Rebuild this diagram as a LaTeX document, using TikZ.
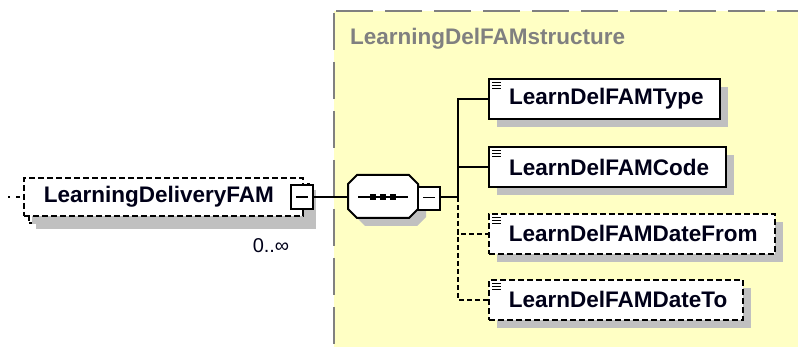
\documentclass[tikz,border=0pt]{standalone}
\usepackage{fontspec}
\setmainfont{Liberation Sans}
\usetikzlibrary{calc,shadows}
\definecolor{bgyellow}{HTML}{FFFFC4}
\definecolor{shgray}{HTML}{C0C0C0}
\definecolor{framegray}{HTML}{808080}
\definecolor{txtnavy}{HTML}{000018}
\newcommand\elemicon[1]{%
  \foreach \yy in {4.5,7.5,10.5}{\draw[line width=0.9pt] ($(#1.north west)+(4,\yy)$) -- ++(9,0);}}
\begin{document}
\begin{tikzpicture}[x=1pt,y=-1pt,
  boldtext/.style={font=\fontsize{22.5}{26}\selectfont\bfseries},
  elembox/.style={draw=black, line width=2pt, fill=white, minimum height=40pt,
    inner xsep=14pt, inner ysep=0pt, align=left, anchor=north west, boldtext,
    text=txtnavy, execute at begin node={\hspace*{6pt}},
    general shadow={fill=shgray, shadow xshift=8pt, shadow yshift=-8pt}},
  optbox/.style={elembox, line width=1.8pt, dash pattern=on 6pt off 3pt},
  btn/.style={draw=black, line width=2pt, fill=white, minimum width=22pt, minimum height=24pt, inner sep=0pt},
  conn/.style={line width=1.8pt, black},
  optconn/.style={conn, dash pattern=on 5pt off 3pt},
]
\useasboundingbox (0,0) rectangle (798,347);
% yellow group area
\fill[bgyellow] (334,11) rectangle (798,347);
\draw[framegray, line width=1.8pt, dash pattern=on 37pt off 12pt] (334,13) -- (334,347);
\draw[framegray, line width=1.8pt, dash pattern=on 37pt off 12pt] (336,11) -- (798,11);
\node[anchor=base west, inner sep=0pt, boldtext, text=framegray] (title) at (350,45) {LearningDelFAMstructure};

% main element (multiple occurrence)
\node[draw=black, line width=1.8pt, dash pattern=on 6pt off 3pt, fill=white, anchor=north west,
  minimum width=280pt, minimum height=39pt, inner sep=0pt,
  general shadow={fill=shgray, shadow xshift=7pt, shadow yshift=-6pt}] (mainback) at (28,183) {};
\node[optbox, minimum height=38pt, text width=251pt, general shadow={fill=none, draw=none}] (main) at (23,177) {LearningDeliveryFAM};
\node[btn] (mainbtn) at (302,197) {};
\draw[line width=1.6pt] ($(mainbtn.center)+(-6,0)$) -- ($(mainbtn.center)+(6,0)$);
\node[anchor=base, inner sep=0pt, text=txtnavy, font=\fontsize{20}{24}\selectfont] (occ) at (271,253) {0..∞};

% sequence compositor
\fill[shgray] (365,183) -- (417,183) -- (426,192) -- (426,217) -- (417,226) -- (365,226) -- (356,217) -- (356,192) -- cycle;
\node[minimum width=70pt, minimum height=43pt, inner sep=0pt, anchor=north west] (seq) at (348,175) {};
\draw[line width=2pt, fill=white] (357,175) -- (409,175) -- (418,184) -- (418,209) -- (409,218) -- (357,218) -- (348,209) -- (348,184) -- cycle;
\draw[line width=1.6pt] (358,197) -- (408,197);
\foreach \xx in {373,383,393}{\fill (\xx-3,194) rectangle (\xx+3,200);}
\node[btn, minimum height=23pt] (seqbtn) at (429,198.5) {};
\draw[line width=1.6pt] ($(seqbtn.center)+(-6,-1)$) -- ($(seqbtn.center)+(6,-1)$);

% children
\node[elembox, text width=203pt] (type) at (488,78) {LearnDelFAMType};
\node[elembox, text width=209pt] (code) at (488,146) {LearnDelFAMCode};
\node[optbox, text width=258pt] (datefrom) at (488,213) {LearnDelFAMDateFrom};
\node[optbox, text width=226pt] (dateto) at (488,279) {LearnDelFAMDateTo};
\elemicon{type}
\elemicon{code}
\elemicon{datefrom}
\elemicon{dateto}

% connectors
\coordinate (lin) at (8,197);
\coordinate (bus) at (458,197);
\draw[optconn, line width=1.4pt, dash pattern=on 2pt off 6pt on 4pt off 3pt] (lin) -- (main.west |- lin);
\draw[conn] (mainbtn.east) -- (seq.west |- mainbtn.east);
\draw[conn] (seqbtn.east |- bus) -- (bus);
\draw[conn] (bus) |- (type.west);
\draw[conn] (bus) |- (code.west);
\draw[optconn] (bus) |- (datefrom.west);
\draw[optconn] (bus) |- (dateto.west);
\end{tikzpicture}
\end{document}
